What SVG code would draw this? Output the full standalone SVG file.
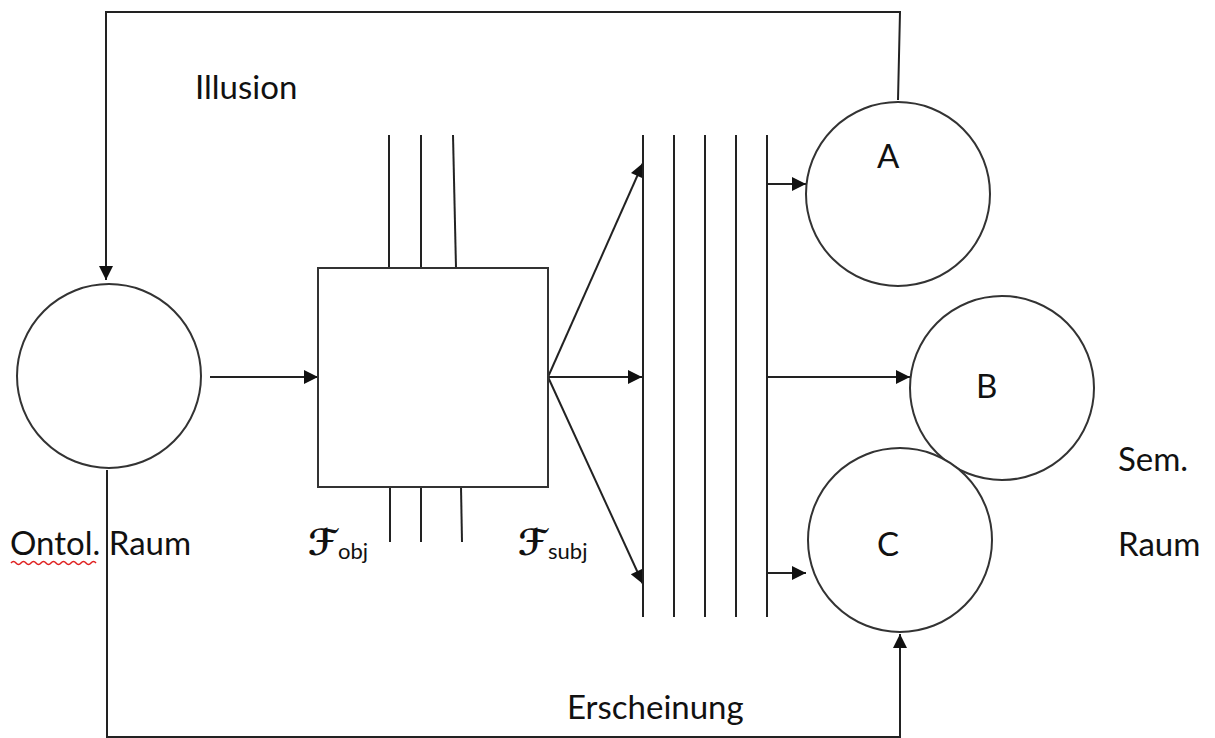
<svg xmlns="http://www.w3.org/2000/svg" width="1215" height="738" viewBox="0 0 1215 738">
<defs>
<style>
.ln{stroke:#222;stroke-width:2;fill:none}
.nd{stroke:#333;stroke-width:2;fill:#fff}
.t{font-family:Lato,"Open Sans","Liberation Sans",sans-serif;font-size:33px;fill:#111}
.f{font-family:"DejaVu Sans",sans-serif;font-size:36px;font-weight:bold;fill:#111}
.s{font-family:Lato,"Open Sans","Liberation Sans",sans-serif;font-size:22px;fill:#111}
</style>
<marker id="ah2" viewBox="0 0 10 10" refX="10" refY="5" markerWidth="16" markerHeight="14" orient="auto" markerUnits="userSpaceOnUse">
<path d="M0,0 L10,5 L0,10 z" fill="#111"/>
</marker>
</defs>
<rect width="1215" height="738" fill="#fff"/>
<g id="connectors">
<polyline class="ln" points="898,100 900,12 106,12 106,280" marker-end="url(#ah2)"/>
<polyline class="ln" points="107,470 107,737 900,737 900,634" marker-end="url(#ah2)"/>
<line class="ln" x1="210" y1="377" x2="318" y2="377" marker-end="url(#ah2)"/>
<line class="ln" x1="389" y1="135" x2="389" y2="268"/>
<line class="ln" x1="421" y1="135" x2="421" y2="268"/>
<line class="ln" x1="453" y1="135" x2="456" y2="268"/>
<line class="ln" x1="390" y1="487" x2="390" y2="542"/>
<line class="ln" x1="421" y1="487" x2="421" y2="542"/>
<line class="ln" x1="461" y1="487" x2="462" y2="542"/>
<line class="ln" x1="548" y1="377" x2="643" y2="163" marker-end="url(#ah2)"/>
<line class="ln" x1="548" y1="377" x2="642" y2="377" marker-end="url(#ah2)"/>
<line class="ln" x1="548" y1="377" x2="643" y2="584" marker-end="url(#ah2)"/>
<line class="ln" x1="643" y1="135" x2="643" y2="617"/>
<line class="ln" x1="674" y1="135" x2="674" y2="617"/>
<line class="ln" x1="705" y1="135" x2="705" y2="617"/>
<line class="ln" x1="736" y1="135" x2="736" y2="617"/>
<line class="ln" x1="767" y1="135" x2="767" y2="617"/>
<line class="ln" x1="767" y1="184" x2="806" y2="184" marker-end="url(#ah2)"/>
<line class="ln" x1="767" y1="377" x2="910" y2="377" marker-end="url(#ah2)"/>
<line class="ln" x1="767" y1="573" x2="806" y2="573" marker-end="url(#ah2)"/>
</g>
<g id="ontol">
<circle class="nd" cx="109" cy="376" r="92"/>
<text class="t" x="10" y="555">Ontol. Raum</text>
<path d="M11,563 q2.5,-3 5,0 t5,0 t5,0 t5,0 t5,0 t5,0 t5,0 t5,0 t5,0 t5,0 t5,0 t5,0 t5,0 t5,0 t5,0 t5,0 t5,0" stroke="#e02020" stroke-width="1.5" fill="none"/>
</g>
<g id="box">
<rect class="nd" x="318" y="268" width="230" height="219"/>
</g>
<g id="fobj"><text x="308" y="555"><tspan class="f">ℱ</tspan><tspan class="s" dx="1" dy="4">obj</tspan></text></g>
<g id="fsubj"><text x="518" y="555"><tspan class="f">ℱ</tspan><tspan class="s" dx="1" dy="4">subj</tspan></text></g>
<g id="A"><circle class="nd" cx="898" cy="194" r="92"/><text class="t" x="877" y="168">A</text></g>
<g id="B"><circle class="nd" cx="1002" cy="388" r="92"/><text class="t" x="976" y="398">B</text></g>
<g id="C"><circle class="nd" cx="900" cy="540" r="92"/><text class="t" x="877" y="556">C</text></g>
<g id="labels">
<text class="t" x="195" y="99">Illusion</text>
<text class="t" x="1118" y="471">Sem.</text>
<text class="t" x="1118" y="556">Raum</text>
<text class="t" x="567" y="719">Erscheinung</text>
</g>
</svg>
